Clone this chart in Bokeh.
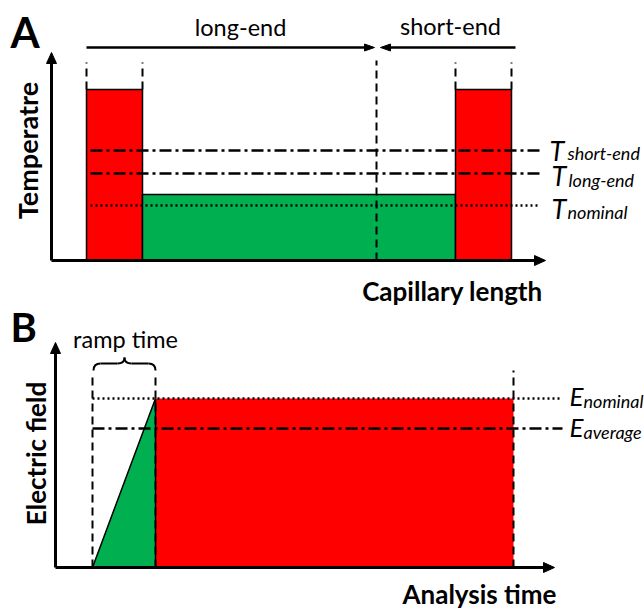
import numpy as np
from bokeh.plotting import figure
from bokeh.models import Range1d
from bokeh.core.properties import value
from bokeh.embed import file_html
from bokeh.resources import INLINE

FONT = value("Lato")

# ---------------- Panel A data (capillary length vs temperature, schematic units) ----------
zone_left = [35, 91, 404]
zone_right = [91, 404, 460]
zone_temp = [171, 66, 171]
zone_color = ["#FF0000", "#00B050", "#FF0000"]
divider_x = 325
temp_levels = [110, 87, 55]            # T_short-end, T_long-end, T_nominal
temp_names = ["short-end", "long-end", "nominal"]
temp_dash = ["12 4 3 4", "12 4 3 4", "2 3"]
cap_axis_end = 494
temp_axis_end = 208

# ---------------- Panel B data (analysis time vs electric field) ----------
ramp_start = 37
ramp_end = 100
run_end = 458
field_levels = [169, 139]               # E_nominal, E_average
field_names = ["nominal", "average"]
field_dash = ["2 3", "12 4 3 4"]
time_axis_end = 499
field_axis_end = 225

# one drawing surface, two coordinate systems (panel A default ranges, panel B extra ranges)
p = figure(width=644, height=609, x_range=Range1d(-51, 593), y_range=Range1d(-349, 260),
           output_backend="svg", toolbar_location=None, min_border=0,
           x_axis_type=None, y_axis_type=None)
p.extra_x_ranges = {"xb": Range1d(-55, 589)}
p.extra_y_ranges = {"yb": Range1d(-42, 567)}
p.grid.visible = False
p.outline_line_color = None
p.background_fill_color = "white"

A = {}
B = {"x_range_name": "xb", "y_range_name": "yb"}


def arrow(rk, x0, y0, x1, y1, width, head_len, head_half):
    """shaft + filled triangular head, head tip at (x1, y1)"""
    dx, dy = x1 - x0, y1 - y0
    n = np.hypot(dx, dy)
    ux, uy = dx / n, dy / n
    bx, by = x1 - ux * head_len, y1 - uy * head_len
    p.line([x0, bx + ux], [y0, by + uy], line_color="black", line_width=width, **rk)
    p.patch([x1, bx - uy * head_half, bx + uy * head_half],
            [y1, by + ux * head_half, by - ux * head_half],
            fill_color="black", line_color="black", line_width=1, **rk)


def txt(rk, x, y, t, size, style="normal", align="center", angle=0):
    p.text(x=x, y=y, text=t, angle=angle, text_font=FONT, text_font_size=size,
           text_font_style=style, text_align=align, text_baseline="middle",
           text_color="black", **rk)


# ======================= Panel A =======================
p.quad(left=zone_left, right=zone_right, bottom=0, top=zone_temp,
       fill_color=zone_color, line_color="black", line_width=1.5)

top_mark = 198
for i in (0, 2):
    for xv in (zone_left[i], zone_right[i]):
        p.line([xv, xv], [zone_temp[i], top_mark], line_color="black",
               line_width=2, line_dash="8 5")
p.line([divider_x, divider_x], [0, 200], line_color="black", line_width=2, line_dash="8 5")

lx0, lx1 = 39, 488
for lvl, dash in zip(temp_levels, temp_dash):
    p.line([lx0, lx1], [lvl, lvl], line_color="black", line_width=2.5, line_dash=dash)

arrow(A, 0, 0, cap_axis_end, 0, 3, 11, 5)
arrow(A, 0, 0, 0, temp_axis_end, 3, 11, 5)

arr_y = 213
arrow(A, zone_left[0], arr_y, divider_x - 2, arr_y, 2.5, 10, 3.5)
arrow(A, zone_right[2] + 4, arr_y, divider_x + 4, arr_y, 2.5, 10, 3.5)

txt(A, [189, 399], [234, 235], ["long-end", "short-end"], "23.5px")

t_off = [0, -2, -3]
s_off = [-2, -6, -6]
txt(A, [498, 500, 500], [l + o for l, o in zip(temp_levels, t_off)], ["T"] * 3,
    "27px", "italic", "left")
txt(A, [516, 517, 516], [l + o for l, o in zip(temp_levels, s_off)], temp_names,
    "18px", "italic", "left")

txt(A, [-41], [229], ["A"], "42px", "bold", "left")
txt(A, [-24], [110], ["Temperatre"], "27px", "bold", angle=np.pi / 2)
txt(A, [401], [-30], ["Capillary length"], "26px", "bold")

# ======================= Panel B =======================
p.quad(left=[ramp_end], right=[run_end], bottom=[0], top=[field_levels[0]],
       fill_color="#FF0000", line_color=None, **B)
p.patch([ramp_start, ramp_end, ramp_end], [0, field_levels[0], 0], fill_color="#00B050",
        line_color="black", line_width=1.5, **B)

for xv, yt in ((ramp_start, 195), (ramp_end, 195), (run_end, 197)):
    p.line([xv, xv], [0, yt], line_color="black", line_width=2, line_dash="8 5", **B)

for lvl, dash in zip(field_levels, field_dash):
    p.line([ramp_start, 507], [lvl, lvl], line_color="black", line_width=2.5,
           line_dash=dash, **B)

arrow(B, 0, 0, time_axis_end, 0, 3, 11, 5)
arrow(B, 0, 0, 0, field_axis_end, 3, 11, 5)

# brace over ramp time
bx0, bx1 = ramp_start + 1, ramp_end
bxm = (bx0 + bx1) / 2
yb, ym, yt = 197, 204, 210
q = 7
p.quadratic(x0=[bx0, bxm - q, bxm, bx1],
            y0=[yb, ym, yt, yb],
            x1=[bx0 + q, bxm, bxm + q, bx1 - q],
            y1=[ym, yt, ym, ym],
            cx=[bx0, bxm, bxm, bx1],
            cy=[ym, ym, ym, ym], line_color="black", line_width=2, **B)
p.line([bx0 + q, bxm - q], [ym, ym], line_color="black", line_width=2, **B)
p.line([bxm + q, bx1 - q], [ym, ym], line_color="black", line_width=2, **B)

txt(B, [70], [229], ["ramp time"], "23.5px")

txt(B, [514] * 2, [l + o for l, o in zip(field_levels, [3, 2])], ["E"] * 2,
    "26px", "italic", "left")
txt(B, [528] * 2, [l + o for l, o in zip(field_levels, [-2, -3])], field_names,
    "18px", "italic", "left")

txt(B, [-45], [241], ["B"], "40px", "bold", "left")
txt(B, [-20], [114], ["Electric field"], "26px", "bold", angle=np.pi / 2)
txt(B, [424], [-26], ["Analysis time"], "26px", "bold")

open("out.html", "w").write(file_html(p, INLINE))
